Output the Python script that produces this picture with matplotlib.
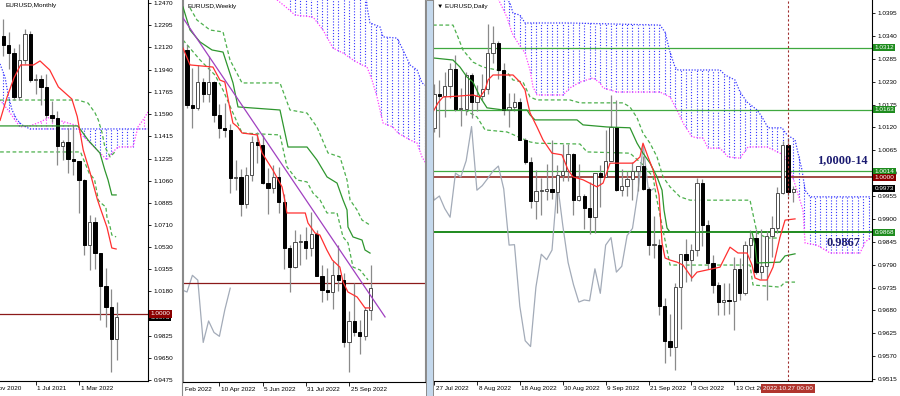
import numpy as np
import matplotlib
matplotlib.use('Agg')
import matplotlib.pyplot as plt
from matplotlib.patches import Rectangle
from matplotlib.lines import Line2D
from matplotlib.transforms import blended_transform_factory, offset_copy, Bbox, TransformedBbox

plt.rcParams['font.family'] = ['Liberation Sans', 'DejaVu Sans']

AZUL = '#3535FF'
ROSA = '#FF3CFF'
VERMELHO = '#FF3030'
VERDE = '#2E962E'
VERDE_TR = '#4DB04D'
CINZA = '#A3ABB8'
NIVEL = '#8B1A1A'
TAM = 4.6

# ---------------- mensal (jan 2021 .. out 2022)
m_open = [1.2215, 1.2136, 1.2075, 1.1728, 1.2020, 1.2227, 1.1858, 1.1870, 1.1809, 1.1579, 1.1558,
          1.1336, 1.1370, 1.1235, 1.1219, 1.1067, 1.0545, 1.0733, 1.0484, 1.0220, 1.0054, 0.9802]
m_high = [1.2349, 1.2243, 1.2113, 1.2150, 1.2266, 1.2254, 1.1909, 1.1900, 1.1909, 1.1692, 1.1616,
          1.1386, 1.1483, 1.1495, 1.1185, 1.1076, 1.0787, 1.0774, 1.0486, 1.0369, 1.0198, 1.0094]
m_low = [1.2055, 1.1952, 1.1704, 1.1704, 1.1986, 1.1847, 1.1752, 1.1664, 1.1563, 1.1524, 1.1186,
         1.1222, 1.1121, 1.1106, 1.0806, 1.0471, 1.0349, 1.0359, 0.9952, 0.9900, 0.9536, 0.9632]
m_close = [1.2136, 1.2075, 1.1728, 1.2020, 1.2227, 1.1858, 1.1870, 1.1809, 1.1579, 1.1558, 1.1336,
           1.1370, 1.1235, 1.1219, 1.1067, 1.0545, 1.0733, 1.0484, 1.0220, 1.0054, 0.9802, 0.9973]
m_yticks = [1.2470, 1.2295, 1.2120, 1.1940, 1.1765, 1.1590, 1.1415, 1.1235, 1.1060, 1.0885,
            1.0710, 1.0530, 1.0355, 1.0180, 0.9825, 0.9650, 0.9475]
m_xpos = [-2, 6, 14]
m_xlabels = ['Nov 2020', '1 Jul 2021', '1 Mar 2022']

m_tenkan_x = [-0.6, 0.7, 2.0, 3.2, 5.6, 6.8, 8.6, 10.2, 12.7, 13.7, 14.8, 16.1, 17.4, 17.9, 19.2, 20.1, 20.9]
m_tenkan = [1.154, 1.1726, 1.188, 1.1981, 1.1981, 1.2013, 1.1941, 1.1806, 1.1710, 1.157, 1.1305,
            1.112, 1.0914, 1.085, 1.069, 1.0525, 1.0517]
m_kijun_x = [-0.6, 13.8, 15.7, 17.9, 18.8, 19.4, 20.1, 20.9]
m_kijun = [1.1496, 1.1496, 1.1384, 1.128, 1.1145, 1.1066, 1.0947, 1.0947]
m_tr1_x = [-0.6, 13.8, 15.7, 17.0, 17.6, 18.3, 18.8, 19.8, 20.7]
m_tr1 = [1.1702, 1.1702, 1.1678, 1.1599, 1.1543, 1.144, 1.133, 1.125, 1.129]
m_tr2_x = [-0.6, 14.3, 15.9, 16.9, 17.6, 17.9, 19.0, 19.2, 19.8, 20.1, 20.9]
m_tr2 = [1.1289, 1.1289, 1.112, 1.107, 1.0907, 1.089, 1.085, 1.077, 1.069, 1.0628, 1.0613]
m_span_a_x = [-0.61, 0.31, 0.87, 1.61, 2.54, 3.46, 4.94, 26.8]
m_span_a = [1.1989, 1.1886, 1.1751, 1.1623, 1.1544, 1.1504, 1.1472, 1.1472]
m_span_b_x = [-0.61, 0.87, 3.09, 4.94, 6.80, 8.65, 10.13, 13.83, 14.2, 16.05, 17.91, 19.2, 20.13,
              21.24, 24.02, 24.94, 25.87, 26.8]
m_span_b = [1.1702, 1.1623, 1.1488, 1.1496, 1.1527, 1.1567, 1.1543, 1.1496, 1.1440, 1.1360, 1.1281,
            1.1226, 1.1281, 1.1329, 1.1329, 1.1488, 1.1543, 1.1607]

# ---------------- semanal (27 fev 2022 .. 23 out 2022)
w_open = [1.1215, 1.0930, 1.0912, 1.1049, 1.0985, 1.1046, 1.0876, 1.0807, 1.0797, 1.0545, 1.0551,
          1.0413, 1.0562, 1.0733, 1.0719, 1.0519, 1.0496, 1.0554, 1.0424, 1.0184, 1.0082, 1.0213,
          1.0220, 1.0180, 1.0258, 1.0037, 0.9965, 0.9953, 1.0040, 1.0015, 0.9690, 0.9802, 0.9742,
          0.9722, 0.9860]
w_high = [1.1240, 1.1121, 1.1137, 1.1070, 1.1185, 1.1053, 1.0933, 1.0936, 1.0829, 1.0642, 1.0594,
          1.0606, 1.0765, 1.0787, 1.0774, 1.0601, 1.0615, 1.0606, 1.0463, 1.0200, 1.0278, 1.0254,
          1.0293, 1.0368, 1.0274, 1.0093, 1.0079, 1.0113, 1.0198, 1.0051, 0.9852, 0.9999, 0.9809,
          0.9875, 1.0094]
w_low = [1.0910, 1.0806, 1.0900, 1.0945, 1.0945, 1.0837, 1.0757, 1.0762, 1.0471, 1.0483, 1.0349,
         1.0390, 1.0532, 1.0627, 1.0516, 1.0359, 1.0470, 1.0366, 1.0072, 0.9952, 1.0079, 1.0096,
         1.0123, 1.0142, 1.0034, 0.9899, 0.9910, 0.9864, 0.9956, 0.9666, 0.9536, 0.9722, 0.9632,
         0.9704, 0.9808]
w_close = [1.0930, 1.0912, 1.1049, 1.0985, 1.1046, 1.0876, 1.0807, 1.0797, 1.0545, 1.0551, 1.0413,
           1.0562, 1.0733, 1.0719, 1.0519, 1.0496, 1.0554, 1.0424, 1.0184, 1.0082, 1.0213, 1.0220,
           1.0180, 1.0258, 1.0037, 0.9965, 0.9953, 1.0040, 1.0015, 0.9690, 0.9802, 0.9742, 0.9722,
           0.9860, 0.9973]
w_xpos = [6, 14, 22, 30]
w_xlabels = ['10 Apr 2022', '5 Jun 2022', '31 Jul 2022', '25 Sep 2022']

w_tenkan_x = [-0.74, 0.56, 4.8, 6.1, 7.0, 8.0, 8.5, 9.4, 10.2, 13.0, 13.9, 15.9, 17.6, 18.1, 18.5,
              21.9, 22.4, 23.7, 24.6, 25.9, 26.9, 28.3, 28.9, 29.8, 31.5, 32.96, 33.9]
w_tenkan = [1.1225, 1.1137, 1.1126, 1.1058, 1.1048, 1.0902, 1.0834, 1.0813, 1.0782, 1.0772, 1.0678,
            1.0589, 1.0501, 1.0433, 1.0365, 1.0365, 1.0313, 1.0261, 1.0250, 1.0172, 1.0120, 1.0083,
            1.0005, 0.9953, 0.9927, 0.9870, 0.9870]
w_kijun_x = [-0.74, 0.56, 2.41, 4.63, 6.67, 8.52, 9.44, 17.22, 18.70, 22.22, 24.07, 25.93, 27.78,
             28.89, 29.63, 29.81, 30.74, 32.41, 32.96, 33.89]
w_kijun = [1.1439, 1.1319, 1.1257, 1.1215, 1.1204, 1.1043, 1.0918, 1.0902, 1.0709, 1.0709, 1.0641,
           1.0553, 1.0521, 1.0433, 1.0381, 1.0292, 1.0240, 1.0224, 1.0172, 1.0156]
w_tr1_x = [0.56, 1.85, 4.26, 6.67, 7.96, 10.19, 17.22, 19.07, 22.22, 24.07, 26.11, 28.33, 29.63,
           30.19, 31.48, 32.41, 33.89]
w_tr1 = [1.1434, 1.1371, 1.1319, 1.1309, 1.1163, 1.1043, 1.1043, 1.0902, 1.0886, 1.0813, 1.0678,
         1.0657, 1.0537, 1.0433, 1.0381, 1.0328, 1.0302]
w_tr2_x = [-0.74, 2.41, 5.19, 6.67, 8.52, 10.19, 17.22, 18.52, 20.37, 22.22, 23.33, 24.63, 25.93,
           27.78, 28.89, 29.81, 30.74, 32.04, 33.52]
w_tr2 = [1.1267, 1.1163, 1.1084, 1.1006, 1.0886, 1.0782, 1.0772, 1.0605, 1.0537, 1.0527, 1.0469,
         1.0433, 1.0365, 1.0365, 1.0240, 1.0209, 1.0083, 1.0068, 1.0016]
w_trend_x = [-0.74, 36.67]
w_trend = [1.1382, 0.9823]
w_span_a_x = [16.67, 32.96, 33.33, 33.89, 35.74, 36.30, 38.89, 40.0, 41.30, 42.59, 43.52, 44.63]
w_span_a = [1.16, 1.16, 1.1439, 1.1356, 1.1335, 1.1283, 1.1277, 1.1215, 1.1137, 1.1111, 1.1043, 1.1022]
w_span_b_x = [16.67, 18.52, 20.0, 23.33, 25.19, 27.04, 28.89, 30.74, 32.41, 33.33, 34.26, 35.19,
              35.74, 36.30, 38.15, 39.07, 41.30, 42.59, 43.52, 44.63]
w_span_b = [1.1476, 1.1434, 1.1397, 1.1387, 1.1319, 1.1225, 1.1199, 1.1163, 1.1137, 1.1126, 1.1058,
            1.0970, 1.0902, 1.0834, 1.0813, 1.0782, 1.0746, 1.0730, 1.0657, 1.0605]

# ---------------- diario (27 jul 2022 .. 28 out 2022)
d_open = [1.0118, 1.0200, 1.0195, 1.0220, 1.0260, 1.0165, 1.0165, 1.0245, 1.0180, 1.0195, 1.0212,
          1.0298, 1.0322, 1.0258, 1.0163, 1.0170, 1.0180, 1.0090, 1.0037, 0.9943, 0.9967, 0.9968,
          0.9971, 0.9965, 1.0006, 1.0015, 1.0055, 0.9945, 0.9955, 0.9925, 0.9904, 1.0010, 1.0001,
          1.0040, 1.0122, 0.9969, 0.9980, 0.9997, 1.0015, 1.0027, 0.9972, 0.9837, 0.9838, 0.9690,
          0.9607, 0.9593, 0.9736, 0.9815, 0.9802, 0.9825, 0.9987, 0.9885, 0.9795, 0.9742, 0.9700,
          0.9705, 0.9703, 0.9780, 0.9721, 0.9837, 0.9855, 0.9772, 0.9786, 0.9860, 0.9877, 0.9963,
          1.0078, 0.9965]
d_high = [1.0224, 1.0234, 1.0254, 1.0274, 1.0294, 1.0215, 1.0254, 1.0250, 1.0223, 1.0248, 1.0368,
          1.0364, 1.0327, 1.0274, 1.0202, 1.0203, 1.0190, 1.0095, 1.0050, 1.0017, 0.9999, 1.0033,
          1.0090, 1.0030, 1.0079, 1.0080, 1.0058, 1.0033, 0.9960, 0.9988, 1.0010, 1.0030, 1.0113,
          1.0198, 1.0187, 1.0020, 1.0016, 1.0037, 1.0028, 1.0051, 0.9976, 0.9907, 0.9852, 0.9710,
          0.9671, 0.9745, 0.9816, 0.9852, 0.9840, 0.9999, 0.9996, 0.9897, 0.9812, 0.9748, 0.9746,
          0.9747, 0.9809, 0.9806, 0.9846, 0.9874, 0.9876, 0.9875, 0.9870, 0.9906, 0.9976, 1.0088,
          1.0094, 0.9978]
d_low = [1.0110, 1.0097, 1.0146, 1.0190, 1.0160, 1.0123, 1.0150, 1.0142, 1.0160, 1.0185, 1.0200,
         1.0275, 1.0236, 1.0150, 1.0122, 1.0160, 1.0092, 1.0033, 0.9926, 0.9899, 0.9910, 0.9945,
         0.9947, 0.9914, 0.9990, 0.9990, 0.9910, 0.9942, 0.9876, 0.9864, 0.9865, 0.9929, 1.0000,
         1.0040, 0.9966, 0.9955, 0.9956, 0.9945, 0.9966, 0.9970, 0.9812, 0.9807, 0.9669, 0.9554,
         0.9570, 0.9536, 0.9635, 0.9748, 0.9750, 0.9810, 0.9836, 0.9780, 0.9722, 0.9670, 0.9668,
         0.9672, 0.9632, 0.9705, 0.9716, 0.9806, 0.9768, 0.9755, 0.9704, 0.9808, 0.9865, 0.9961,
         0.9955, 0.9940]
d_close = [1.0200, 1.0195, 1.0220, 1.0260, 1.0165, 1.0165, 1.0245, 1.0180, 1.0195, 1.0212, 1.0298,
           1.0322, 1.0258, 1.0163, 1.0170, 1.0180, 1.0090, 1.0037, 0.9943, 0.9967, 0.9968, 0.9971,
           0.9965, 1.0006, 1.0015, 1.0055, 0.9945, 0.9955, 0.9925, 0.9904, 1.0010, 1.0001, 1.0040,
           1.0122, 0.9969, 0.9980, 0.9997, 1.0015, 1.0027, 0.9972, 0.9837, 0.9838, 0.9690, 0.9607,
           0.9593, 0.9736, 0.9815, 0.9802, 0.9825, 0.9987, 0.9885, 0.9795, 0.9742, 0.9700, 0.9705,
           0.9703, 0.9780, 0.9721, 0.9837, 0.9855, 0.9772, 0.9786, 0.9860, 0.9877, 0.9963, 1.0078,
           0.9965, 0.9973]
d_yticks = [1.0395, 1.0340, 1.0285, 1.0230, 1.0175, 1.0120, 1.0065, 1.0010, 0.9955, 0.9900,
            0.9845, 0.9790, 0.9735, 0.9680, 0.9625, 0.9570, 0.9515]
d_xpos = [0, 8, 16, 24, 32, 40, 48, 56]
d_xlabels = ['27 Jul 2022', '8 Aug 2022', '18 Aug 2022', '30 Aug 2022', '9 Sep 2022',
             '21 Sep 2022', '3 Oct 2022', '13 Oct 2022']
d_niveis = [1.0312, 1.0163, 1.0014]
d_nivel_forte = 0.9868

d_tenkan_x = [-0.19, 0.75, 1.68, 4.29, 7.27, 8.58, 9.51, 10.07, 11.0, 14.73, 16.03, 16.97, 17.34,
              17.90, 19.20, 20.32, 22.0, 23.86, 24.98, 25.91, 27.78, 30.39, 31.51, 32.81, 37.10,
              38.40, 38.96, 39.90, 40.83, 41.95, 42.51, 43.07, 44.0, 45.30, 46.42, 48.10, 49.03,
              53.32, 55.18, 56.67, 58.35, 59.28, 59.84, 60.78, 62.08, 63.20, 64.50, 65.44, 67.30]
d_tenkan = [1.0157, 1.0179, 1.0193, 1.0195, 1.0198, 1.0193, 1.0210, 1.0234, 1.0246, 1.0246, 1.0229,
            1.0210, 1.0186, 1.0155, 1.0121, 1.0090, 1.0058, 1.0054, 1.0018, 1.0001, 0.9994, 0.9977,
            0.9986, 1.0034, 1.0034, 1.0049, 1.0082, 1.0049, 1.0018, 0.9957, 0.9842, 0.9806, 0.9801,
            0.9796, 0.9789, 0.9758, 0.9772, 0.9784, 0.9832, 0.9818, 0.9818, 0.9789, 0.9758, 0.9753,
            0.9753, 0.9784, 0.9856, 0.9897, 0.9900]
d_kijun_x = [-0.19, 3.54, 4.85, 6.15, 7.27, 8.58, 9.88, 12.86, 17.34, 17.90, 18.83, 26.66, 27.78,
             32.25, 36.54, 37.85, 38.96, 40.27, 41.57, 42.51, 42.88, 43.44, 44.0, 59.28, 59.84,
             60.22, 64.50, 65.44, 67.30]
d_kijun = [1.0287, 1.0282, 1.0265, 1.0241, 1.0229, 1.0193, 1.0167, 1.0162, 1.0162, 1.0150, 1.0138,
           1.0138, 1.0126, 1.0121, 1.0119, 1.0082, 1.0058, 1.0034, 1.0001, 0.9969, 0.9921, 0.9878,
           0.9868, 0.9868, 0.9837, 0.9794, 0.9796, 0.9811, 0.9816]
d_tr1_x = [-0.19, 3.54, 4.47, 5.41, 7.27, 9.13, 11.74, 13.61, 14.73, 16.59, 17.90, 19.20, 25.35,
           27.22, 35.24, 36.54, 37.85, 38.96, 40.27, 41.57, 42.69, 44.0, 45.86, 47.73, 58.91, 60.22,
           62.08, 64.50]
d_tr1 = [1.0366, 1.0366, 1.0337, 1.0306, 1.0277, 1.0265, 1.0258, 1.0253, 1.0234, 1.0229, 1.0193,
         1.0186, 1.0186, 1.0179, 1.0179, 1.0169, 1.0143, 1.0106, 1.0082, 1.0049, 1.0001, 0.9977,
         0.9953, 0.9945, 0.9945, 0.9866, 0.9854, 0.9854]
d_tr2_x = [5.78, 8.02, 9.51, 13.61, 17.90, 19.20, 27.22, 28.52, 36.54, 38.96, 40.83, 41.57, 42.69,
           44.0, 58.91, 59.47, 64.50, 65.44, 67.30]
d_tr2 = [1.0162, 1.0145, 1.0114, 1.0109, 1.0085, 1.0082, 1.0080, 1.0061, 1.0058, 1.0030, 1.0001,
         0.9945, 0.9873, 0.9789, 0.9789, 0.9741, 0.9736, 0.9748, 0.9748]
d_span_a_x = [12.86, 14.17, 14.73, 16.03, 16.97, 25.35, 42.13, 43.07, 44.0, 44.93, 45.49, 53.32,
              54.25, 56.11, 57.05, 58.35, 60.22, 61.15, 62.27, 64.88, 65.81, 67.30, 67.86, 68.61,
              69.17, 70.10, 81.28]
d_span_a = [1.0440, 1.0419, 1.0395, 1.0390, 1.0371, 1.0371, 1.0366, 1.0349, 1.0301, 1.0265, 1.0258,
            1.0258, 1.0246, 1.0234, 1.0205, 1.0181, 1.0162, 1.0145, 1.0119, 1.0119, 1.0102, 1.0090,
            1.0058, 1.0017, 0.9969, 0.9953, 0.9953]
d_span_b_x = [11.93, 13.61, 14.54, 15.66, 16.97, 17.90, 18.46, 19.20, 24.05, 25.35, 27.22, 29.64,
              30.95, 31.51, 34.12, 42.13, 44.0, 45.30, 46.42, 48.10, 50.15, 51.08, 53.32, 54.81,
              57.05, 58.54, 62.08, 63.20, 64.50, 65.44, 66.74, 68.79, 69.17, 71.40, 73.83, 79.42,
              80.35, 81.28]
d_span_b = [1.0430, 1.0385, 1.0347, 1.0323, 1.0299, 1.0258, 1.0217, 1.0198, 1.0198, 1.0215, 1.0229,
            1.0239, 1.0227, 1.0215, 1.0205, 1.0205, 1.0193, 1.0162, 1.0131, 1.0097, 1.0094, 1.0070,
            1.0070, 1.0049, 1.0046, 1.0073, 1.0073, 1.0066, 1.0058, 1.0049, 1.0006, 0.9921, 0.9842,
            0.9837, 0.9818, 0.9818, 0.9844, 0.9854]

NIVEL_1 = 1.0000
ULTIMO = 0.9973
DESLOC = 26  # chikou


def velas(ax, o, h, l, c, minimo):
    x = np.arange(len(o))
    o, h, l, c = map(np.asarray, (o, h, l, c))
    ax.vlines(x, l, h, color='#8a8a8a', lw=0.9, zorder=3)
    alta = c >= o
    base = np.minimum(o, c)
    corpo = np.maximum(np.abs(c - o), minimo)
    ax.bar(x[alta], corpo[alta], 0.62, base[alta], color='white', edgecolor='#4d4d4d', lw=0.7, zorder=4)
    ax.bar(x[~alta], corpo[~alta], 0.62, base[~alta], color='black', edgecolor='black', lw=0.7, zorder=4)


def nuvem(ax, xa, ya, xb, yb, ini, fim):
    xs = np.arange(ini, fim + 1)
    a = np.interp(xs, xa, ya)
    b = np.interp(xs, xb, yb)
    for xi, ai, bi in zip(xs, a, b):
        cor = AZUL if ai >= bi else ROSA
        ax.plot([xi, xi], [min(ai, bi), max(ai, bi)], color=cor, lw=0.8, ls=(0, (1, 1.6)), zorder=1)
    ax.plot(xa, ya, color=AZUL, lw=0.9, ls=(0, (1, 1.3)), zorder=2)
    ax.plot(xb, yb, color=ROSA, lw=0.9, ls=(0, (1, 1.3)), zorder=2)


def eixo_preco(ax, ticks):
    ax.yaxis.tick_right()
    ax.set_yticks(ticks)
    ax.set_yticklabels([f'{t:.4f}' for t in ticks])
    ax.tick_params(axis='y', direction='out', length=2.5, width=0.6, labelsize=TAM, pad=1.5)


def eixo_tempo(ax, pos, textos):
    ax.set_xticks([p for p in pos if ax.get_xlim()[0] <= p <= ax.get_xlim()[1]])
    ax.set_xticklabels([])
    ax.tick_params(axis='x', direction='out', length=3, width=0.6)
    tr = ax.get_xaxis_transform()
    saida = []
    for p, t in zip(pos, textos):
        saida.append(ax.text(p + 0.3, -0.019, t, transform=tr, ha='left', va='center',
                             fontsize=TAM, clip_on=False))
    return saida


def caixa(fig, ax, preco, texto, cor):
    tr = offset_copy(blended_transform_factory(ax.transAxes, ax.transData), fig=fig, x=2.5, y=0, units='dots')
    ax.text(1.0, preco, texto, transform=tr, ha='left', va='center', fontsize=TAM, color='white',
            bbox=dict(boxstyle='square,pad=0.18', fc=cor, ec='none'), clip_on=False, zorder=10)


def moldura(ax, esq=False, dir_cor='black'):
    ax.spines['top'].set_visible(False)
    ax.spines['left'].set_visible(esq)
    ax.spines['left'].set_color('#8a8a8a')
    ax.spines['right'].set_color(dir_cor)
    for s in ax.spines.values():
        s.set_linewidth(0.8)


fig = plt.figure(figsize=(9, 3.96), dpi=100)
H = 396.0

# ---- mensal
ax1 = fig.add_axes([0, 15 / H, 148 / 900, 381 / H])
ax1.set_xlim(-0.611, 26.80)
ax1.set_ylim(0.94668, 1.24978)
nuvem(ax1, m_span_a_x, m_span_a, m_span_b_x, m_span_b, 0, 26)
ax1.plot(m_tr1_x, m_tr1, color=VERDE_TR, lw=0.9, ls=(0, (3, 2)), zorder=2)
ax1.plot(m_tr2_x, m_tr2, color=VERDE_TR, lw=0.9, ls=(0, (3, 2)), zorder=2)
ax1.axhline(NIVEL_1, color=NIVEL, lw=0.9, zorder=2)
velas(ax1, m_open, m_high, m_low, m_close, 1 / 1257)
ax1.plot(m_kijun_x, m_kijun, color=VERDE, lw=0.9, zorder=5)
ax1.plot(m_tenkan_x, m_tenkan, color=VERMELHO, lw=0.9, zorder=5)
eixo_preco(ax1, m_yticks)
eixo_tempo(ax1, m_xpos, m_xlabels)
moldura(ax1)
caixa(fig, ax1, ULTIMO, f'{ULTIMO:.4f}', 'black')
caixa(fig, ax1, NIVEL_1, f'{NIVEL_1:.4f}', '#8B0000')
ax1.text(0.04, 0.985, 'EURUSD,Monthly', transform=ax1.transAxes, fontsize=TAM, va='center', ha='left')

# ---- semanal
ax2 = fig.add_axes([183 / 900, 14 / H, 242 / 900, 382 / H])
ax2.set_xlim(-0.741, 44.07)
ax2.set_ylim(0.94838, 1.14755)
nuvem(ax2, w_span_a_x, w_span_a, w_span_b_x, w_span_b, 19, 44)
ax2.plot(w_tr1_x, w_tr1, color=VERDE_TR, lw=0.9, ls=(0, (3, 2)), zorder=2)
ax2.plot(w_tr2_x, w_tr2, color=VERDE_TR, lw=0.9, ls=(0, (3, 2)), zorder=2)
ax2.plot(np.arange(len(w_close)) - DESLOC, w_close, color=CINZA, lw=0.9, zorder=2)
ax2.axhline(NIVEL_1, color=NIVEL, lw=0.9, zorder=2)
velas(ax2, w_open, w_high, w_low, w_close, 1 / 1918)
ax2.plot(w_kijun_x, w_kijun, color=VERDE, lw=0.9, zorder=5)
ax2.plot(w_tenkan_x, w_tenkan, color=VERMELHO, lw=0.9, zorder=5)
ax2.plot(w_trend_x, w_trend, color='#A040C0', lw=0.9, zorder=5)
ax2.set_yticks([])
eixo_tempo(ax2, w_xpos, w_xlabels)
ax2.text(-0.45, -0.019, 'Feb 2022', transform=ax2.get_xaxis_transform(), ha='left', va='center', fontsize=TAM)
moldura(ax2, esq=True, dir_cor='#8a8a8a')
ax2.text(0.017, 0.984, 'EURUSD,Weekly', transform=ax2.transAxes, fontsize=TAM, va='center', ha='left')

# ---- diario
ax3 = fig.add_axes([433 / 900, 15 / H, 439 / 900, 381 / H])
ax3.set_xlim(-0.186, 81.65)
ax3.set_ylim(0.95102, 1.04263)
nuvem(ax3, d_span_a_x, d_span_a, d_span_b_x, d_span_b, 12, 81)
for n in d_niveis:
    ax3.axhline(n, color='#3FA83F', lw=0.9, zorder=2)
ax3.axhline(d_nivel_forte, color='#1E8A1E', lw=1.4, zorder=2)
ax3.axhline(NIVEL_1, color='#9B3A36', lw=1.3, zorder=2)
ax3.plot(d_tr1_x, d_tr1, color=VERDE_TR, lw=0.9, ls=(0, (3, 2)), zorder=2)
ax3.plot(d_tr2_x, d_tr2, color=VERDE_TR, lw=0.9, ls=(0, (3, 2)), zorder=2)
ax3.plot(np.arange(len(d_close)) - DESLOC, d_close, color=CINZA, lw=0.9, zorder=2)
velas(ax3, d_open, d_high, d_low, d_close, 1 / 4159)
ax3.plot(d_kijun_x, d_kijun, color=VERDE, lw=0.9, zorder=5)
ax3.plot(d_tenkan_x, d_tenkan, color=VERMELHO, lw=0.9, zorder=5)
ax3.axvline(66, color='#A03030', lw=0.8, ls=(0, (2, 2)), zorder=6)
eixo_preco(ax3, d_yticks)
rotulos = eixo_tempo(ax3, d_xpos, d_xlabels)
# o rotulo de 13 Oct fica cortado pela caixa da data do cursor
corte = TransformedBbox(Bbox([[0, 0], [762 / 900, 1]]), fig.transFigure)
rotulos[-1].set_clip_on(True)
rotulos[-1].set_clip_box(corte)
moldura(ax3, esq=True)
for n in d_niveis:
    caixa(fig, ax3, n, f'{n:.4f}', '#1E8C1E')
caixa(fig, ax3, d_nivel_forte, f'{d_nivel_forte:.4f}', '#1E8C1E')
caixa(fig, ax3, ULTIMO, f'{ULTIMO:.4f}', 'black')
caixa(fig, ax3, NIVEL_1, f'{NIVEL_1:.4f}', '#8B0000')
ax3.text(66, -0.019, '2022.10.27 00:00', transform=ax3.get_xaxis_transform(), ha='center', va='center',
         fontsize=TAM, color='white', zorder=12, clip_on=False,
         bbox=dict(boxstyle='square,pad=0.35', fc='#B0352E', ec='none'))
ax3.text(0.009, 0.984, '\u25bc EURUSD,Daily', transform=ax3.transAxes, fontsize=TAM, va='center', ha='left')
ax3.text(71.4, 1.00416, '1,0000-14', fontsize=8.8, fontweight='bold', family='Liberation Serif',
         color='#1A1A70', va='center', ha='left', zorder=8)
ax3.text(73.1, 0.98420, '0.9867', fontsize=8.8, fontweight='bold', family='Liberation Serif',
         color='#1A1A70', va='center', ha='left', zorder=8)

# divisorias entre as janelas
fig.add_artist(Line2D([181.5 / 900] * 2, [0, 1], color='#8a8a8a', lw=0.8))
fig.add_artist(Rectangle((425.5 / 900, 0), 7 / 900, 1, transform=fig.transFigure,
                         fc='#C4D8EC', ec='#8a8a8a', lw=0.7))

fig.savefig('out.png', dpi=100)
